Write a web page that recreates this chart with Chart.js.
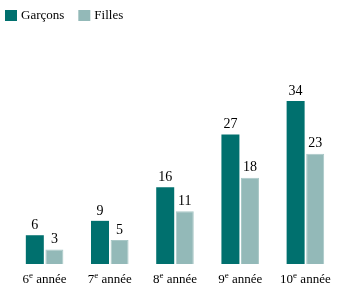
<!DOCTYPE html>
<html>
<head>
<meta charset="utf-8">
<script src="https://cdn.jsdelivr.net/npm/chart.js@4/dist/chart.umd.min.js"></script>
<style>
  html, body { margin: 0; padding: 0; background: #fff; }
  #wrap { width: 350px; height: 294px; }
</style>
</head>
<body>
<div id="wrap"><canvas id="chart" width="350" height="294"></canvas></div>
<script>
var gradeNums = ['6', '7', '8', '9', '10'];
var gradeSuffix = 'e';
var gradeWord = ' année';
var grades = gradeNums.map(function(n) { return n + gradeSuffix + gradeWord; });
var garcons = [6, 9, 16, 27, 34];
var filles = [3, 5, 11, 18, 23];
var seriesNames = ['Garçons', 'Filles'];
var colors = ['#00706e', '#93b9b8'];

var FONT = '"Liberation Serif", serif';

// legend, value labels and category labels with superscript
var decorations = {
  id: 'decorations',
  afterDatasetsDraw: function(chart) {
    var ctx = chart.ctx;
    ctx.save();
    ctx.fillStyle = '#000';

    // values above bars
    ctx.font = '14px ' + FONT;
    ctx.textAlign = 'center';
    ctx.textBaseline = 'bottom';
    chart.data.datasets.forEach(function(ds, i) {
      chart.getDatasetMeta(i).data.forEach(function(bar, j) {
        ctx.fillText(ds.data[j], bar.x, bar.y - 3);
      });
    });

    // x labels: "6e année" with raised e
    var xs = chart.scales.x;
    ctx.textAlign = 'left';
    ctx.textBaseline = 'alphabetic';
    gradeNums.forEach(function(n, i) {
      ctx.font = '13px ' + FONT;
      var wn = ctx.measureText(n).width;
      var ww = ctx.measureText(gradeWord).width;
      ctx.font = '9px ' + FONT;
      var ws = ctx.measureText(gradeSuffix).width;
      var x = xs.getPixelForValue(i) - (wn + ws + ww) / 2;
      var y = 283;
      ctx.font = '13px ' + FONT;
      ctx.fillText(n, x, y);
      ctx.font = '9px ' + FONT;
      ctx.fillText(gradeSuffix, x + wn, y - 5);
      ctx.font = '13px ' + FONT;
      ctx.fillText(gradeWord, x + wn + ws, y);
    });

    // legend
    ctx.font = '13px ' + FONT;
    ctx.textBaseline = 'middle';
    var lx = 5;
    seriesNames.forEach(function(name, i) {
      ctx.fillStyle = colors[i];
      ctx.fillRect(lx, 10, 12, 11);
      ctx.fillStyle = '#000';
      ctx.fillText(name, lx + 16, 16);
      lx += 16 + ctx.measureText(name).width + 14;
    });
    ctx.restore();
  }
};

new Chart(document.getElementById('chart'), {
  type: 'bar',
  data: {
    labels: grades,
    datasets: [{
      label: seriesNames[0],
      data: garcons,
      backgroundColor: colors[0],
      borderWidth: 0
    }, {
      label: seriesNames[1],
      data: filles,
      backgroundColor: colors[1],
      borderColor: '#a9c8c7',
      borderWidth: 1
    }]
  },
  options: {
    responsive: false,
    animation: false,
    layout: { padding: { left: 12, right: 12, top: 30, bottom: 30 } },
    datasets: { bar: { categoryPercentage: 0.6, barPercentage: 0.92 } },
    plugins: {
      tooltip: { enabled: false },
      legend: { display: false }
    },
    scales: {
      x: { display: false },
      y: {
        display: false,
        min: 0,
        max: 48.8
      }
    }
  },
  plugins: [decorations]
});
</script>
</body>
</html>
